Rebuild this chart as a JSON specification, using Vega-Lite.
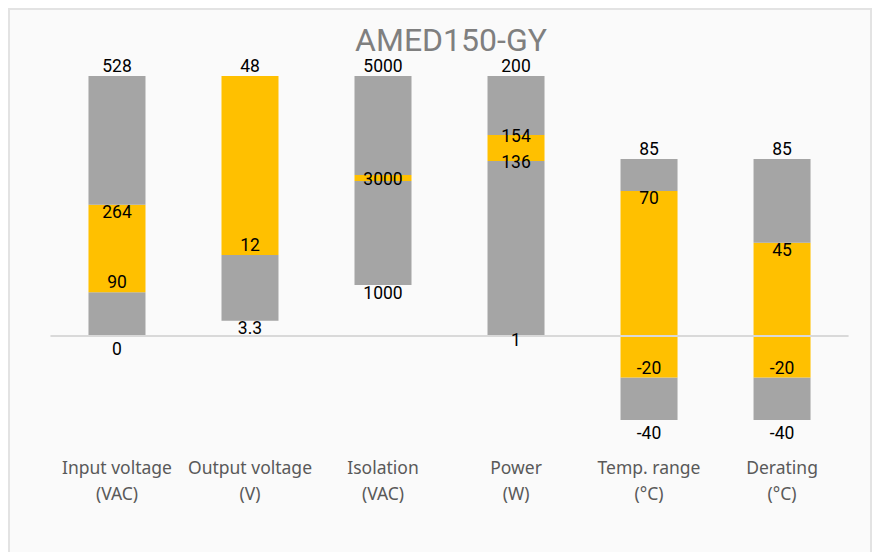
{
  "$schema": "https://vega.github.io/schema/vega-lite/v6.json",
  "width": 862,
  "height": 545,
  "autosize": {"type": "none"},
  "padding": {"left": 9, "top": 9, "right": 6, "bottom": 0},
  "background": "#FFFFFF",
  "title": {
    "text": "AMED150-GY",
    "font": "Roboto",
    "fontSize": 32,
    "fontWeight": "normal",
    "color": "#7F7F7F",
    "anchor": "middle",
    "dx": 11,
    "offset": -74,
    "baseline": "alphabetic"
  },
  "config": {
    "view": {"fill": "#FAFAFA", "stroke": "#E3E3E3", "strokeWidth": 2},
    "axisX": {
      "domain": false,
      "ticks": false,
      "grid": false,
      "labelAngle": 0,
      "labelExpr": "split(datum.label, '|')",
      "labelFont": "Noto Sans",
      "labelFontSize": 17.5,
      "labelColor": "#595959",
      "labelLineHeight": 26,
      "labelPadding": 0,
      "labelBaseline": "top",
      "offset": -95
    }
  },
  "datasets": {
    "bars": [
      {"cat": "Input voltage|(VAC)", "lo": 0, "hi": 16.8, "kind": "range"},
      {"cat": "Input voltage|(VAC)", "lo": 16.8, "hi": 50.5, "kind": "typical"},
      {"cat": "Input voltage|(VAC)", "lo": 50.5, "hi": 100, "kind": "range"},
      {"cat": "Output voltage|(V)", "lo": 5.9, "hi": 31.2, "kind": "range"},
      {"cat": "Output voltage|(V)", "lo": 31.2, "hi": 100, "kind": "typical"},
      {"cat": "Isolation|(VAC)", "lo": 19.6, "hi": 59.6, "kind": "range"},
      {"cat": "Isolation|(VAC)", "lo": 59.6, "hi": 61.9, "kind": "typical"},
      {"cat": "Isolation|(VAC)", "lo": 61.9, "hi": 100, "kind": "range"},
      {"cat": "Power|(W)", "lo": 0.4, "hi": 67.3, "kind": "range"},
      {"cat": "Power|(W)", "lo": 67.3, "hi": 77.3, "kind": "typical"},
      {"cat": "Power|(W)", "lo": 77.3, "hi": 100, "kind": "range"},
      {"cat": "Temp. range|(°C)", "lo": -32.3, "hi": -16.0, "kind": "range"},
      {"cat": "Temp. range|(°C)", "lo": -16.0, "hi": 55.8, "kind": "typical"},
      {"cat": "Temp. range|(°C)", "lo": 55.8, "hi": 68.1, "kind": "range"},
      {"cat": "Derating|(°C)", "lo": -32.3, "hi": -16.0, "kind": "range"},
      {"cat": "Derating|(°C)", "lo": -16.0, "hi": 35.9, "kind": "typical"},
      {"cat": "Derating|(°C)", "lo": 35.9, "hi": 68.1, "kind": "range"}
    ],
    "labels": [
      {"cat": "Input voltage|(VAC)", "at": 100, "text": "528", "side": "above"},
      {"cat": "Input voltage|(VAC)", "at": 50.5, "text": "264", "side": "below"},
      {"cat": "Input voltage|(VAC)", "at": 16.8, "text": "90", "side": "above"},
      {"cat": "Input voltage|(VAC)", "at": 0, "text": "0", "side": "under"},
      {"cat": "Output voltage|(V)", "at": 100, "text": "48", "side": "above"},
      {"cat": "Output voltage|(V)", "at": 31.2, "text": "12", "side": "above"},
      {"cat": "Output voltage|(V)", "at": 5.9, "text": "3.3", "side": "below"},
      {"cat": "Isolation|(VAC)", "at": 100, "text": "5000", "side": "above"},
      {"cat": "Isolation|(VAC)", "at": 60.75, "text": "3000", "side": "center"},
      {"cat": "Isolation|(VAC)", "at": 19.6, "text": "1000", "side": "below"},
      {"cat": "Power|(W)", "at": 100, "text": "200", "side": "above"},
      {"cat": "Power|(W)", "at": 77.3, "text": "154", "side": "center"},
      {"cat": "Power|(W)", "at": 67.3, "text": "136", "side": "center"},
      {"cat": "Power|(W)", "at": -1.2, "text": "1", "side": "center"},
      {"cat": "Temp. range|(°C)", "at": 68.1, "text": "85", "side": "above"},
      {"cat": "Temp. range|(°C)", "at": 55.8, "text": "70", "side": "below"},
      {"cat": "Temp. range|(°C)", "at": -16.0, "text": "-20", "side": "above"},
      {"cat": "Temp. range|(°C)", "at": -32.3, "text": "-40", "side": "under"},
      {"cat": "Derating|(°C)", "at": 68.1, "text": "85", "side": "above"},
      {"cat": "Derating|(°C)", "at": 35.9, "text": "45", "side": "below"},
      {"cat": "Derating|(°C)", "at": -16.0, "text": "-20", "side": "above"},
      {"cat": "Derating|(°C)", "at": -32.3, "text": "-40", "side": "under"}
    ],
    "zero": [
      {"from": "Input voltage|(VAC)", "to": "Derating|(°C)", "level": 0}
    ]
  },
  "layer": [
    {
      "data": {"name": "bars"},
      "mark": {"type": "bar"},
      "encoding": {
        "x": {
          "field": "cat",
          "type": "nominal",
          "title": null,
          "sort": null,
          "scale": {
            "type": "band",
            "domain": ["Input voltage|(VAC)", "Output voltage|(V)", "Isolation|(VAC)", "Power|(W)", "Temp. range|(°C)", "Derating|(°C)"],
            "paddingInner": 0.5714,
            "paddingOuter": 0.526,
            "align": 0.568
          }
        },
        "y": {
          "field": "lo",
          "type": "quantitative",
          "axis": null,
          "scale": {"domain": [-83.85, 125.77], "nice": false, "zero": false}
        },
        "y2": {"field": "hi"},
        "color": {
          "field": "kind",
          "type": "nominal",
          "legend": null,
          "scale": {"domain": ["range", "typical"], "range": ["#A5A5A5", "#FFC000"]}
        }
      }
    },
    {
      "data": {"name": "zero"},
      "mark": {"type": "rule", "color": "#D9D9D9", "strokeWidth": 2},
      "encoding": {
        "x": {"field": "from", "type": "nominal", "title": null, "bandPosition": -0.667},
        "x2": {"field": "to", "bandPosition": 1.667},
        "y": {"field": "level", "type": "quantitative", "axis": null}
      }
    },
    {
      "data": {"name": "labels"},
      "transform": [{"filter": "datum.side === 'above'"}],
      "mark": {"type": "text", "font": "Roboto", "fontSize": 17.5, "color": "#000000", "baseline": "middle", "dy": -9},
      "encoding": {
        "x": {"field": "cat", "type": "nominal", "title": null},
        "y": {"field": "at", "type": "quantitative", "axis": null},
        "text": {"field": "text"}
      }
    },
    {
      "data": {"name": "labels"},
      "transform": [{"filter": "datum.side === 'below'"}],
      "mark": {"type": "text", "font": "Roboto", "fontSize": 17.5, "color": "#000000", "baseline": "middle", "dy": 8.5},
      "encoding": {
        "x": {"field": "cat", "type": "nominal", "title": null},
        "y": {"field": "at", "type": "quantitative", "axis": null},
        "text": {"field": "text"}
      }
    },
    {
      "data": {"name": "labels"},
      "transform": [{"filter": "datum.side === 'center'"}],
      "mark": {"type": "text", "font": "Roboto", "fontSize": 17.5, "color": "#000000", "baseline": "middle", "dy": 1.5},
      "encoding": {
        "x": {"field": "cat", "type": "nominal", "title": null},
        "y": {"field": "at", "type": "quantitative", "axis": null},
        "text": {"field": "text"}
      }
    },
    {
      "data": {"name": "labels"},
      "transform": [{"filter": "datum.side === 'under'"}],
      "mark": {"type": "text", "font": "Roboto", "fontSize": 17.5, "color": "#000000", "baseline": "middle", "dy": 14},
      "encoding": {
        "x": {"field": "cat", "type": "nominal", "title": null},
        "y": {"field": "at", "type": "quantitative", "axis": null},
        "text": {"field": "text"}
      }
    }
  ]
}
